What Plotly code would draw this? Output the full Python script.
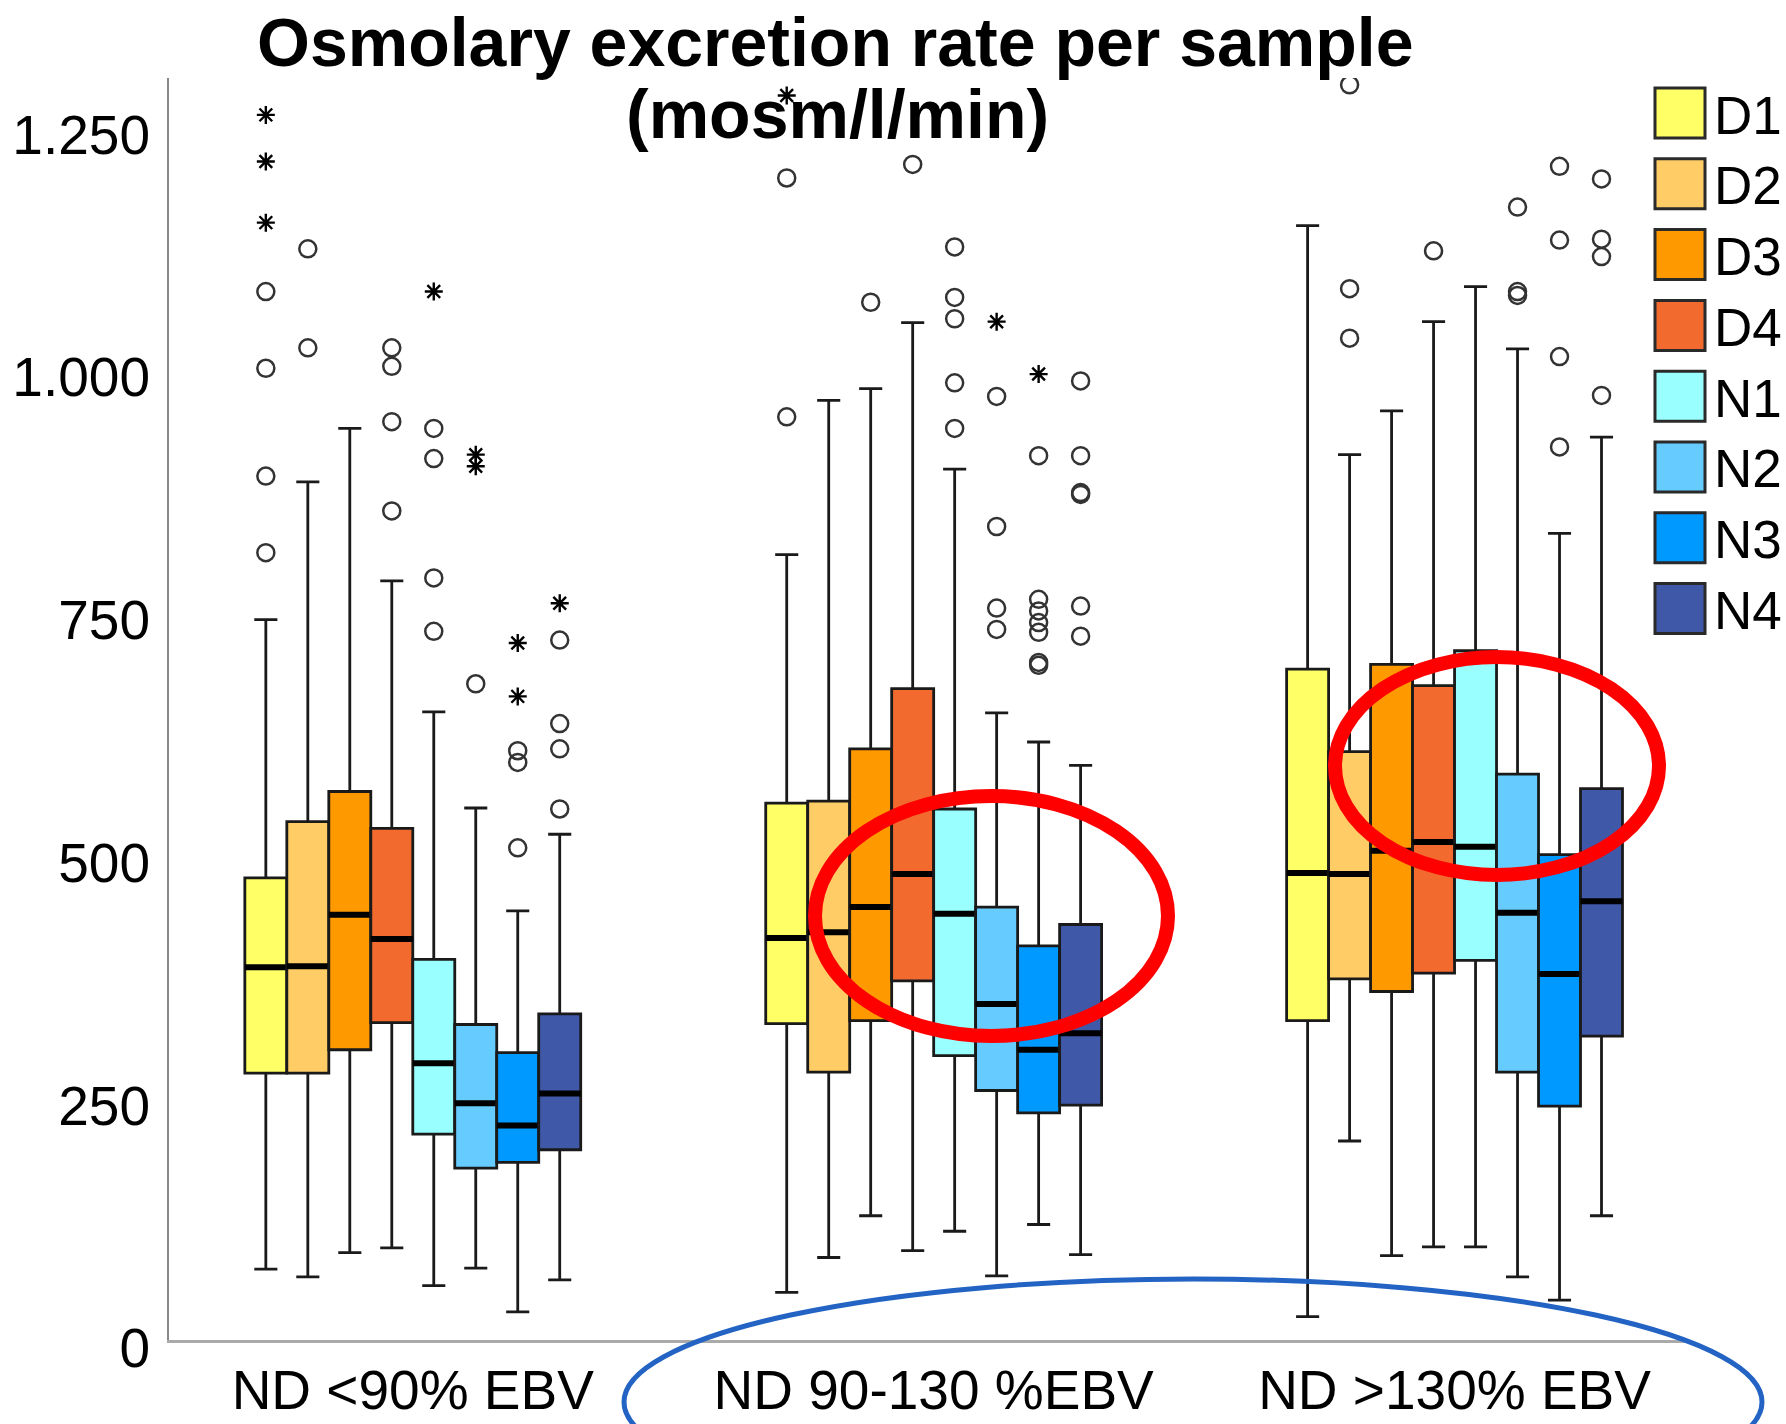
import plotly.graph_objects as go

# ---------------- data ----------------
groups = ["ND <90% EBV", "ND 90-130 %EBV", "ND >130% EBV"]
series = ["D1", "D2", "D3", "D4", "N1", "N2", "N3", "N4"]
colors = ["#FFFF66", "#FFCC66", "#FF9900", "#F26A2E",
          "#99FFFF", "#66CCFF", "#0099FF", "#3F59A8"]

# per series, values for the three groups
lower_whisker = {
    "D1": [73, 49, 24], "D2": [65, 85, 205], "D3": [90, 128, 87], "D4": [95, 92, 96],
    "N1": [56, 112, 96], "N2": [74, 66, 65], "N3": [29, 119, 41], "N4": [62, 88, 128],
}
q1 = {
    "D1": [275, 326, 329], "D2": [275, 276, 372], "D3": [299, 329, 359], "D4": [327, 370, 378],
    "N1": [212, 293, 391], "N2": [177, 257, 276], "N3": [183, 234, 241], "N4": [196, 242, 313],
}
median = {
    "D1": [384, 414, 481], "D2": [385, 420, 480], "D3": [438, 446, 504], "D4": [413, 480, 513],
    "N1": [285, 439, 508], "N2": [244, 346, 440], "N3": [221, 299, 377], "N4": [254, 316, 452],
}
q3 = {
    "D1": [476, 553, 691], "D2": [534, 555, 606], "D3": [565, 609, 696], "D4": [527, 671, 674],
    "N1": [392, 547, 710], "N2": [325, 446, 583], "N3": [296, 406, 500], "N4": [336, 428, 568],
}
upper_whisker = {
    "D1": [742, 809, 1148], "D2": [884, 968, 912], "D3": [939, 980, 957], "D4": [782, 1048, 1049],
    "N1": [647, 897, 1085], "N2": [548, 646, 1021], "N3": [442, 616, 831], "N4": [521, 592, 930],
}
outliers_circle = {
    "D1": [[811, 890, 1001, 1080], [951, 1197], []],
    "D2": [[1022, 1124], [], [1032, 1083, 1293]],
    "D3": [[], [1069], []],
    "D4": [[854, 946, 1003, 1022], [1211], [1122]],
    "N1": [[730, 785, 908, 939], [939, 986, 1052, 1074, 1126], []],
    "N2": [[676], [732, 754, 838, 972], [1076, 1080, 1167]],
    "N3": [[507, 595, 607], [695, 698, 729, 739, 751, 763, 911], [920, 1013, 1133, 1209]],
    "N4": [[547, 609, 635, 721], [725, 756, 871, 873, 911, 988], [973, 1116, 1134, 1196]],
}
outliers_star = {
    "D1": [[1151, 1214, 1262], [1282], []],
    "D2": [[], [], []],
    "D3": [[], [], []],
    "D4": [[], [], []],
    "N1": [[1080], [], []],
    "N2": [[900, 912], [1049], []],
    "N3": [[663, 718], [995], []],
    "N4": [[759], [], []],
}
y_tickvals = [0, 250, 500, 750, 1000, 1250]
y_ticktext = ["0", "250", "500", "750", "1.000", "1.250"]

# ---------------- layout geometry ----------------
FIG_W, FIG_H = 1786, 1424
L, R, T, B = 169, 1690, 78, 1340
PW, PH = R - L, B - T
BOX_W = 0.0806
FONT = "Liberation Sans, Arial, sans-serif"


def px_x(px):
    return (px - L) / PW


def px_y(py):
    return (B - py) / PH


def pos(g, k):
    return g + (k - 3.5) * BOX_W


fig = go.Figure()

for k, s in enumerate(series):
    xs = [pos(g, k) for g in range(len(groups))]
    fig.add_trace(go.Box(
        x=xs, q1=q1[s], median=median[s], q3=q3[s],
        lowerfence=lower_whisker[s], upperfence=upper_whisker[s],
        width=BOX_W, fillcolor=colors[k],
        line=dict(color="#1a1a1a", width=2.8),
        whiskerwidth=0.55, boxpoints=False, showlegend=False, name=s,
    ))
    # thick median line
    fig.add_trace(go.Box(
        x=xs, q1=median[s], median=median[s], q3=median[s],
        lowerfence=median[s], upperfence=median[s],
        width=BOX_W, fillcolor="rgba(0,0,0,0)",
        line=dict(color="black", width=6),
        whiskerwidth=0, boxpoints=False, showlegend=False, hoverinfo="skip",
    ))

for k, s in enumerate(series):
    cx, cy, sx, sy = [], [], [], []
    for g in range(len(groups)):
        for v in outliers_circle[s][g]:
            cx.append(pos(g, k)); cy.append(v)
        for v in outliers_star[s][g]:
            sx.append(pos(g, k)); sy.append(v)
    if cx:
        fig.add_trace(go.Scatter(
            x=cx, y=cy, mode="markers", showlegend=False,
            marker=dict(symbol="circle-open", size=17, color="#333333",
                        line=dict(width=2.5, color="#333333")),
        ))
    if sx:
        fig.add_trace(go.Scatter(
            x=sx, y=sy, mode="markers", showlegend=False,
            marker=dict(symbol="asterisk-open", size=15, color="black",
                        line=dict(width=2.4, color="black")),
        ))

shapes = []
annotations = []

# custom legend
for i, s in enumerate(series):
    cy = 113 + 70.8 * i
    shapes.append(dict(type="rect", xref="paper", yref="paper",
                       x0=px_x(1655), x1=px_x(1705), y0=px_y(cy + 25), y1=px_y(cy - 25),
                       fillcolor=colors[i], line=dict(color="#2a2a2a", width=3)))
    annotations.append(dict(text=s, xref="paper", yref="paper", x=px_x(1712), y=px_y(cy + 2),
                            xanchor="left", yanchor="middle", showarrow=False,
                            font=dict(family=FONT, size=53, color="black")))

# highlight ellipses
shapes.append(dict(type="circle", xref="paper", yref="paper",
                   x0=px_x(815), x1=px_x(1168), y0=px_y(1036), y1=px_y(796),
                   line=dict(color="#FF0000", width=14)))
shapes.append(dict(type="circle", xref="paper", yref="paper",
                   x0=px_x(1335), x1=px_x(1659), y0=px_y(875), y1=px_y(657),
                   line=dict(color="#FF0000", width=14)))
shapes.append(dict(type="circle", xref="paper", yref="paper",
                   x0=px_x(624), x1=px_x(1762), y0=px_y(1525), y1=px_y(1279),
                   line=dict(color="#2363C3", width=5)))

# title (two lines)
annotations.append(dict(text="<b>Osmolary excretion rate per sample</b>", xref="paper", yref="paper",
                        x=px_x(835), y=px_y(42), xanchor="center", yanchor="middle", showarrow=False,
                        font=dict(family=FONT, size=68, color="black")))
annotations.append(dict(text="<b>(mosm/l/min)</b>", xref="paper", yref="paper",
                        x=px_x(837), y=px_y(114), xanchor="center", yanchor="middle", showarrow=False,
                        font=dict(family=FONT, size=68, color="black")))

fig.update_layout(
    width=FIG_W, height=FIG_H,
    margin=dict(l=L, r=FIG_W - R, t=T, b=FIG_H - B, pad=0, autoexpand=False),
    paper_bgcolor="white", plot_bgcolor="white",
    showlegend=False, boxmode="overlay",
    shapes=shapes, annotations=annotations,
    xaxis=dict(range=[-0.468, 2.452], tickvals=list(range(len(groups))), ticktext=groups,
               showgrid=False, zeroline=False, showline=True, linecolor="#AAAAAA", linewidth=3,
               ticks="", automargin=False,
               tickfont=dict(family=FONT, size=55, color="black")),
    yaxis=dict(range=[0, 1300], tickvals=y_tickvals, ticktext=y_ticktext,
               showgrid=False, zeroline=False, showline=True, linecolor="#888888", linewidth=2,
               ticks="outside", ticklen=6, tickcolor="rgba(0,0,0,0)", automargin=False,
               ticklabelshift=8,
               tickfont=dict(family=FONT, size=55, color="black")),
)

fig.write_html("out.html")
